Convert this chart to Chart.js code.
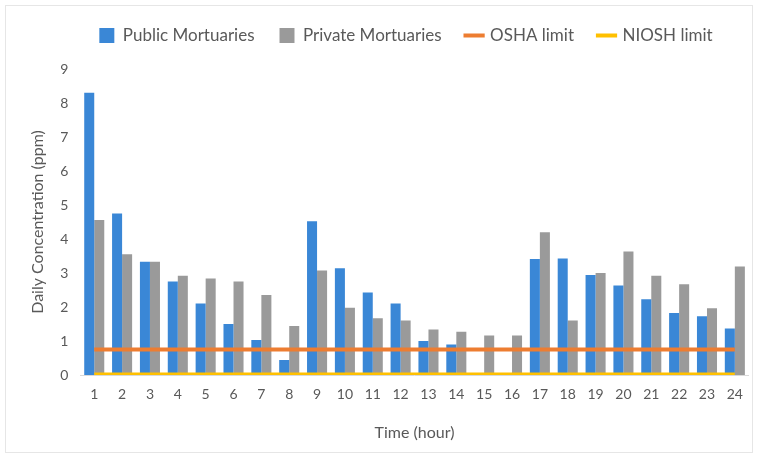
<!DOCTYPE html>
<html>
<head>
<meta charset="utf-8">
<script src="https://cdn.jsdelivr.net/npm/chart.js@4"></script>
<style>
html,body{margin:0;padding:0;background:#fff;}
#wrap{position:absolute;left:5px;top:5px;width:748px;height:448px;border:1px solid #e6e6e6;box-sizing:border-box;}
canvas{display:block;}
</style>
</head>
<body>
<div id="wrap"><canvas id="c" width="748" height="448"></canvas></div>
<script>
const hours = ['1','2','3','4','5','6','7','8','9','10','11','12','13','14','15','16','17','18','19','20','21','22','23','24'];
const publicMortuaries = [8.3,4.75,3.33,2.75,2.1,1.5,1.03,0.44,4.52,3.14,2.43,2.1,1.0,0.9,0,0,3.41,3.43,2.94,2.63,2.23,1.82,1.73,1.37];
const privateMortuaries = [4.56,3.55,3.33,2.92,2.84,2.75,2.35,1.44,3.07,1.98,1.67,1.6,1.34,1.27,1.16,1.16,4.2,1.6,3.0,3.63,2.92,2.67,1.96,3.19];
const oshaLimit = hours.map(() => 0.75);
const nioshLimit = hours.map(() => 0.016);
const yTicks = [0,1,2,3,4,5,6,7,8,9];

const textColor = '#595959';
const fam = 'Lato, "Open Sans", sans-serif';
const titleFont = {family: fam, size: 16};
const tickFont = {family: fam, size: 14};

const legendTweak = {
  id:'legendTweak',
  beforeInit(chart){
    const lg = chart.legend;
    const origFit = lg.fit;
    lg.fit = function(){ origFit.call(this); this.height += 15; };
    const origDraw = lg.draw;
    lg.draw = function(){
      const ctx = this.ctx;
      ctx.save(); ctx.translate(16,0); origDraw.call(this); ctx.restore();
    };
  }
};

new Chart(document.getElementById('c'), {
  data: {
    labels: hours,
    datasets: [
      {type:'bar', label:'Public Mortuaries', data: publicMortuaries, backgroundColor:'#3a87d6', borderWidth:0, categoryPercentage:0.72, barPercentage:1.0, order:2, pointStyle:'rect'},
      {type:'bar', label:'Private Mortuaries', data: privateMortuaries, backgroundColor:'#9a9a9a', borderWidth:0, categoryPercentage:0.72, barPercentage:1.0, order:2, pointStyle:'rect'},
      {type:'line', label:'OSHA limit', data: oshaLimit, borderColor:'#ED7D31', backgroundColor:'#ED7D31', borderWidth:4, pointRadius:0, order:1, pointStyle:'line'},
      {type:'line', label:'NIOSH limit', data: nioshLimit, borderColor:'#FFC000', backgroundColor:'#FFC000', borderWidth:4, pointRadius:0, order:0, pointStyle:'line'}
    ]
  },
  options: {
    responsive:false,
    animation:false,
    layout:{padding:{left:22,right:2,top:-4,bottom:8}},
    plugins:{
      legend:{
        position:'top',
        labels:{
          color:textColor, font:{family:fam, size:17}, usePointStyle:true, boxWidth:15, boxHeight:15, padding:25,
          sort:(a,b)=>a.datasetIndex-b.datasetIndex
        }
      },
      tooltip:{enabled:false}
    },
    scales:{
      x:{
        type:'category',
        offset:true,
        grid:{display:false, drawTicks:false},
        border:{display:true, color:'#d9d9d9', width:1},
        ticks:{color:textColor, font:tickFont, padding:11, maxRotation:0, autoSkip:false},
        title:{display:true, text:'Time (hour)', color:textColor, font:titleFont, padding:{top:9}}
      },
      y:{
        min:0, max:9,
        afterBuildTicks:(axis)=>{axis.ticks = yTicks.map(v=>({value:v}));},
        grid:{display:false, drawTicks:false},
        border:{display:false},
        ticks:{color:textColor, font:tickFont, padding:12},
        title:{display:true, text:'Daily Concentration (ppm)', color:textColor, font:titleFont, padding:{top:0,bottom:1}}
      }
    }
  },
  plugins:[legendTweak]
});
</script>
</body>
</html>
